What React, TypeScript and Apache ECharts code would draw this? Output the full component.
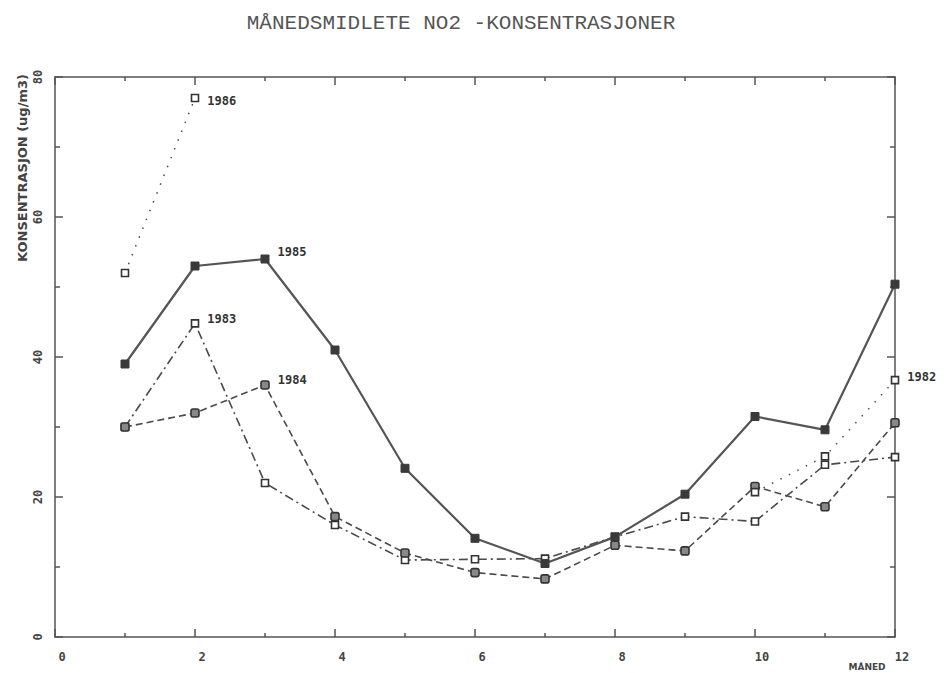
import React, { useEffect, useRef } from "react";
import * as echarts from "echarts";

const months = [1, 2, 3, 4, 5, 6, 7, 8, 9, 10, 11, 12];
const y1985 = [39, 53, 54, 41, 24.1, 14.1, 10.5, 14.3, 20.4, 31.5, 29.6, 50.4];
const y1983 = [30, 44.8, 22, 16, 11, 11.1, 11.2, 14.3, 17.2, 16.5, 24.6, 25.7];
const y1984 = [30, 32, 36, 17.2, 12, 9.2, 8.3, 13.1, 12.3, 21.5, 18.6, 30.6];
const months1986 = [1, 2];
const y1986 = [52, 77];
const months1982 = [10, 11, 12];
const y1982 = [20.7, 25.8, 36.7];

const labelAt: Record<string, number> = { "1985": 3, "1983": 2, "1984": 3, "1986": 2, "1982": 12 };
const labelDy: Record<string, number> = { "1985": -7, "1983": -4, "1984": -5, "1986": 3, "1982": -3 };

const ink = "#4a4a4a";
const labelFont = { fontFamily: "DejaVu Sans Mono", fontWeight: "bold" as const, fontSize: 12, color: "#333" };

function build(name: string, xs: number[], ys: number[]) {
  return xs.map((x, i) => {
    const item: any = { value: [x, ys[i]] };
    if (labelAt[name] === x) {
      item.label = {
        show: true,
        formatter: name,
        position: "right",
        distance: 8,
        offset: [0, labelDy[name]],
        ...labelFont,
      };
    }
    return item;
  });
}

export default function App() {
  const ref = useRef<HTMLDivElement>(null);
  useEffect(() => {
    if (!ref.current) return;
    const chart = echarts.init(ref.current, null, { renderer: "svg" });
    const axisLine = { show: true, onZero: false, lineStyle: { color: "#555", width: 1.5 } };
    const tickStyle = { color: "#555", width: 1.5 };
    const tickLabel = { fontFamily: "DejaVu Sans Mono", fontWeight: "bold" as const, fontSize: 12, color: "#444" };
    chart.setOption({
      animation: false,
      backgroundColor: "#fff",
      title: {
        text: "MÅNEDSMIDLETE NO2 -KONSENTRASJONER",
        left: 456,
        textAlign: "center",
        top: 8,
        textStyle: { fontFamily: "Liberation Mono", fontWeight: "normal", fontSize: 21, color: "#555" },
      },
      grid: { left: 55, right: 51, top: 77, bottom: 36 },
      xAxis: [
        {
          type: "value",
          min: 0,
          max: 12,
          interval: 2,
          axisLine,
          axisTick: { show: true, inside: true, length: 8, lineStyle: tickStyle },
          minorTick: { show: true, splitNumber: 2, length: 4, lineStyle: tickStyle },
          splitLine: { show: false },
          axisLabel: { ...tickLabel, margin: 14, padding: [0, 0, 0, 14] },
        },
        {
          type: "value",
          position: "top",
          min: 0,
          max: 12,
          interval: 2,
          axisLine,
          axisTick: { show: true, inside: true, length: 8, lineStyle: tickStyle },
          minorTick: { show: true, splitNumber: 2, length: 4, lineStyle: tickStyle },
          splitLine: { show: false },
          axisLabel: { show: false },
        },
      ],
      yAxis: [
        {
          type: "value",
          min: 0,
          max: 80,
          interval: 20,
          axisLine,
          axisTick: { show: true, inside: true, length: 8, lineStyle: tickStyle },
          minorTick: { show: true, splitNumber: 2, length: 5, lineStyle: tickStyle },
          splitLine: { show: false },
          axisLabel: { ...tickLabel, rotate: 90, margin: 11 },
        },
        {
          type: "value",
          position: "right",
          min: 0,
          max: 80,
          interval: 20,
          axisLine,
          axisTick: { show: true, inside: true, length: 8, lineStyle: tickStyle },
          minorTick: { show: true, splitNumber: 2, length: 5, lineStyle: tickStyle },
          splitLine: { show: false },
          axisLabel: { show: false },
        },
      ],
      graphic: [
        {
          type: "text",
          x: 22,
          y: 168,
          rotation: Math.PI / 2,
          style: {
            text: "KONSENTRASJON (ug/m3)",
            font: "bold 13px 'DejaVu Sans'",
            fill: "#444",
            textAlign: "center",
            textVerticalAlign: "middle",
          },
        },
        {
          type: "text",
          x: 867,
          y: 667,
          style: {
            text: "MÅNED",
            font: "bold 9px 'DejaVu Sans'",
            fill: "#444",
            textAlign: "center",
            textVerticalAlign: "middle",
          },
        },
      ],
      series: [
        {
          name: "1985",
          type: "line",
          data: build("1985", months, y1985),
          symbol: "rect",
          symbolSize: 8,
          itemStyle: { color: "#3a3a3a", borderColor: "#3a3a3a" },
          lineStyle: { color: "#555", width: 2.2, type: "solid" },
          z: 5,
        },
        {
          name: "1983",
          type: "line",
          data: build("1983", months, y1983),
          symbol: "rect",
          symbolSize: 7,
          itemStyle: { color: "#fff", borderColor: "#333", borderWidth: 1.6 },
          lineStyle: { color: ink, width: 1.6, type: [9, 4, 2, 4] },
        },
        {
          name: "1984",
          type: "line",
          data: build("1984", months, y1984),
          symbol: "roundRect",
          symbolSize: 8,
          itemStyle: { color: "#888", borderColor: "#333", borderWidth: 1.6 },
          lineStyle: { color: ink, width: 1.6, type: [7, 4] },
        },
        {
          name: "1986",
          type: "line",
          data: build("1986", months1986, y1986),
          symbol: "rect",
          symbolSize: 7,
          itemStyle: { color: "#fff", borderColor: "#333", borderWidth: 1.6 },
          lineStyle: { color: ink, width: 1.5, type: [1.5, 8] },
        },
        {
          name: "1982",
          type: "line",
          data: build("1982", months1982, y1982),
          symbol: "rect",
          symbolSize: 7,
          itemStyle: { color: "#fff", borderColor: "#333", borderWidth: 1.6 },
          lineStyle: { color: ink, width: 1.5, type: [1.5, 8] },
        },
      ],
    });
    return () => chart.dispose();
  }, []);
  return <div ref={ref} style={{ position: "fixed", left: 0, top: 0, width: 946, height: 673 }} />;
}
